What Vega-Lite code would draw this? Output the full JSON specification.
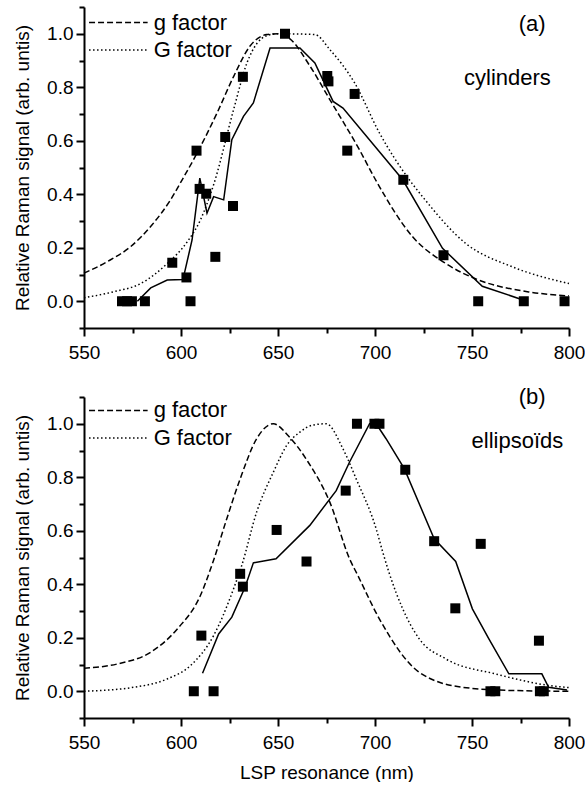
{
  "$schema": "https://vega.github.io/schema/vega-lite/v6.json",
  "padding": {"left": 13, "top": 6, "right": 0, "bottom": 0},
  "spacing": 24,
  "config": {
    "view": {"stroke": null},
    "axis": {
      "grid": false,
      "domainColor": "black",
      "domainWidth": 2,
      "tickColor": "black",
      "tickWidth": 2,
      "labelFont": "Liberation Sans",
      "labelFontSize": 19,
      "labelColor": "black",
      "titleFont": "Liberation Sans",
      "titleFontSize": 19,
      "titleFontWeight": "normal",
      "titleColor": "black"
    },
    "text": {"font": "Liberation Sans", "fontSize": 22, "color": "black"}
  },
  "datasets": {
    "a_pts": [
      {"x": 569.6, "y": 0}, {"x": 572.2, "y": 0}, {"x": 574.7, "y": 0}, {"x": 581.4, "y": 0},
      {"x": 595.5, "y": 0.144}, {"x": 602.8, "y": 0.089}, {"x": 604.9, "y": 0},
      {"x": 608.0, "y": 0.563}, {"x": 609.6, "y": 0.42}, {"x": 613.0, "y": 0.402},
      {"x": 617.7, "y": 0.166}, {"x": 622.8, "y": 0.614}, {"x": 626.8, "y": 0.356},
      {"x": 631.9, "y": 0.839}, {"x": 653.6, "y": 1.0},
      {"x": 675.4, "y": 0.842}, {"x": 676.0, "y": 0.822},
      {"x": 685.7, "y": 0.563}, {"x": 689.5, "y": 0.775}, {"x": 714.6, "y": 0.454},
      {"x": 735.3, "y": 0.172}, {"x": 753.2, "y": 0}, {"x": 776.7, "y": 0}, {"x": 797.7, "y": 0}
    ],
    "a_fit": [
      {"x": 577.5, "y": 0}, {"x": 584.4, "y": 0.05}, {"x": 592.9, "y": 0.079},
      {"x": 601.0, "y": 0.081}, {"x": 605.7, "y": 0.229}, {"x": 609.7, "y": 0.46},
      {"x": 613.4, "y": 0.329}, {"x": 616.8, "y": 0.391}, {"x": 622.0, "y": 0.379},
      {"x": 626.2, "y": 0.604}, {"x": 632.2, "y": 0.691}, {"x": 637.3, "y": 0.741},
      {"x": 645.9, "y": 0.947}, {"x": 661.3, "y": 0.947}, {"x": 669.0, "y": 0.891},
      {"x": 678.4, "y": 0.747}, {"x": 683.5, "y": 0.722}, {"x": 714.3, "y": 0.454},
      {"x": 734.8, "y": 0.198}, {"x": 755.3, "y": 0.056}, {"x": 776.7, "y": 0.004}
    ],
    "a_g": [
      {"x": 550, "y": 0.105}, {"x": 562, "y": 0.148}, {"x": 574, "y": 0.204},
      {"x": 585, "y": 0.285}, {"x": 594.6, "y": 0.379}, {"x": 600.6, "y": 0.454},
      {"x": 608.3, "y": 0.554}, {"x": 618.6, "y": 0.704}, {"x": 627.1, "y": 0.84},
      {"x": 635.6, "y": 0.954}, {"x": 644.2, "y": 0.997}, {"x": 650, "y": 1.0},
      {"x": 656, "y": 0.982}, {"x": 666.4, "y": 0.88}, {"x": 676.7, "y": 0.754},
      {"x": 692, "y": 0.566}, {"x": 700.6, "y": 0.45}, {"x": 719.4, "y": 0.241},
      {"x": 736.5, "y": 0.141}, {"x": 753.6, "y": 0.079}, {"x": 779.2, "y": 0.035},
      {"x": 800, "y": 0.02}
    ],
    "a_G": [
      {"x": 550, "y": 0.013}, {"x": 565, "y": 0.035}, {"x": 579.2, "y": 0.066},
      {"x": 592.9, "y": 0.141}, {"x": 603, "y": 0.22}, {"x": 610, "y": 0.304},
      {"x": 617, "y": 0.44}, {"x": 627.1, "y": 0.716}, {"x": 634, "y": 0.891},
      {"x": 644.2, "y": 0.993}, {"x": 650, "y": 1.0}, {"x": 669, "y": 0.997},
      {"x": 676.7, "y": 0.941}, {"x": 689.5, "y": 0.816}, {"x": 702.3, "y": 0.629},
      {"x": 717.7, "y": 0.454}, {"x": 724.5, "y": 0.391}, {"x": 746.8, "y": 0.216},
      {"x": 770.7, "y": 0.129}, {"x": 800, "y": 0.066}
    ],
    "a_leg_g": [{"x": 552.6, "x2": 582.8, "y": 1.042}],
    "a_leg_G": [{"x": 552.6, "x2": 582.8, "y": 0.939}],
    "a_txt": [
      {"x": 585.9, "y": 1.042, "label": "g factor"},
      {"x": 585.9, "y": 0.939, "label": "G factor"},
      {"x": 774.1, "y": 1.035, "label": "(a)"},
      {"x": 745.9, "y": 0.836, "label": "cylinders"}
    ],
    "b_pts": [
      {"x": 606.6, "y": 0}, {"x": 616.8, "y": 0}, {"x": 610.5, "y": 0.208},
      {"x": 630.5, "y": 0.439}, {"x": 631.9, "y": 0.391}, {"x": 649.3, "y": 0.603},
      {"x": 664.7, "y": 0.485}, {"x": 684.9, "y": 0.75}, {"x": 690.7, "y": 1.0},
      {"x": 699.7, "y": 1.0}, {"x": 702.3, "y": 1.0}, {"x": 715.6, "y": 0.828},
      {"x": 730.5, "y": 0.561}, {"x": 741.4, "y": 0.31}, {"x": 754.5, "y": 0.551},
      {"x": 759.5, "y": 0}, {"x": 762.0, "y": 0}, {"x": 784.5, "y": 0.189},
      {"x": 785.0, "y": 0}, {"x": 787.0, "y": 0}
    ],
    "b_fit": [
      {"x": 611.1, "y": 0.067}, {"x": 619.4, "y": 0.214}, {"x": 626.2, "y": 0.277},
      {"x": 633.0, "y": 0.389}, {"x": 637.3, "y": 0.48}, {"x": 649.0, "y": 0.495},
      {"x": 666.4, "y": 0.62}, {"x": 680.0, "y": 0.75}, {"x": 686.9, "y": 0.857},
      {"x": 697.2, "y": 1.0}, {"x": 700.6, "y": 1.0}, {"x": 705.7, "y": 0.944},
      {"x": 715.1, "y": 0.832}, {"x": 730.5, "y": 0.57}, {"x": 741.6, "y": 0.485},
      {"x": 750.2, "y": 0.308}, {"x": 758.7, "y": 0.196}, {"x": 769.0, "y": 0.065},
      {"x": 786.0, "y": 0.065}, {"x": 789.5, "y": 0.015}, {"x": 799.0, "y": 0.005}
    ],
    "b_g": [
      {"x": 550, "y": 0.086}, {"x": 567.2, "y": 0.102}, {"x": 584.4, "y": 0.146},
      {"x": 598.1, "y": 0.233}, {"x": 610, "y": 0.358}, {"x": 616.8, "y": 0.49},
      {"x": 623.6, "y": 0.645}, {"x": 630.5, "y": 0.794}, {"x": 639, "y": 0.944},
      {"x": 647.6, "y": 1.0}, {"x": 655.3, "y": 0.955}, {"x": 665.5, "y": 0.857},
      {"x": 676.7, "y": 0.707}, {"x": 686.9, "y": 0.495}, {"x": 691.2, "y": 0.432},
      {"x": 702.3, "y": 0.27}, {"x": 722.8, "y": 0.071}, {"x": 745, "y": 0.015},
      {"x": 770, "y": 0.003}, {"x": 800, "y": 0.0}
    ],
    "b_G": [
      {"x": 550, "y": 0.0}, {"x": 575.8, "y": 0.015}, {"x": 592.9, "y": 0.046},
      {"x": 604.9, "y": 0.096}, {"x": 616.8, "y": 0.208}, {"x": 627.1, "y": 0.383},
      {"x": 631.3, "y": 0.47}, {"x": 639, "y": 0.67}, {"x": 647.6, "y": 0.819},
      {"x": 654.5, "y": 0.919}, {"x": 661.3, "y": 0.969}, {"x": 668, "y": 0.995},
      {"x": 674.9, "y": 1.0}, {"x": 683.5, "y": 0.906}, {"x": 690.3, "y": 0.794},
      {"x": 700.6, "y": 0.607}, {"x": 704, "y": 0.52}, {"x": 707.4, "y": 0.44},
      {"x": 714.3, "y": 0.308}, {"x": 722.8, "y": 0.196}, {"x": 736.5, "y": 0.121},
      {"x": 762, "y": 0.065}, {"x": 798, "y": 0.015}, {"x": 800, "y": 0.014}
    ],
    "b_leg_g": [{"x": 552.6, "x2": 582.8, "y": 1.05}],
    "b_leg_G": [{"x": 552.6, "x2": 582.8, "y": 0.947}],
    "b_txt": [
      {"x": 585.9, "y": 1.05, "label": "g factor"},
      {"x": 585.9, "y": 0.947, "label": "G factor"},
      {"x": 774.1, "y": 1.1, "label": "(b)"},
      {"x": 749.8, "y": 0.936, "label": "ellipsoïds"}
    ]
  },
  "vconcat": [
    {
      "width": 485,
      "height": 321,
      "encoding": {
        "x": {
          "field": "x", "type": "quantitative",
          "scale": {"domain": [550, 800], "nice": false, "zero": false},
          "axis": {
            "title": null,
            "values": [550, 575, 600, 625, 650, 675, 700, 725, 750, 775, 800],
            "labelExpr": "datum.value % 50 == 0 ? datum.label : ''",
            "tickSize": {"condition": {"test": "datum.value % 50 == 0", "value": 8}, "value": 5},
            "labelPadding": 7,
            "labelFlush": false
          }
        },
        "y": {
          "field": "y", "type": "quantitative",
          "scale": {"domain": [-0.1, 1.1], "nice": false, "zero": false},
          "axis": {
            "title": "Relative Raman signal (arb. untis)",
            "values": [-0.1, 0, 0.1, 0.2, 0.3, 0.4, 0.5, 0.6, 0.7, 0.8, 0.9, 1.0, 1.1],
            "format": ".1f",
            "labelExpr": "round(datum.value*10) % 2 == 0 ? datum.label : ''",
            "tickSize": {"condition": {"test": "round(datum.value*10) % 2 == 0", "value": 8}, "value": 5},
            "labelPadding": 3,
            "titlePadding": 14,
            "labelFlush": false
          }
        }
      },
      "layer": [
        {"data": {"name": "a_g"}, "mark": {"type": "line", "color": "black", "strokeWidth": 1.5, "strokeDash": [6, 3], "interpolate": "monotone"}},
        {"data": {"name": "a_G"}, "mark": {"type": "line", "color": "black", "strokeWidth": 1.5, "strokeDash": [1.5, 2.5], "interpolate": "monotone"}},
        {"data": {"name": "a_fit"}, "mark": {"type": "line", "color": "black", "strokeWidth": 1.5}},
        {"data": {"name": "a_pts"}, "mark": {"type": "point", "shape": "square", "filled": true, "color": "black", "size": 100, "opacity": 1}},
        {"data": {"name": "a_leg_g"}, "mark": {"type": "rule", "color": "black", "strokeWidth": 1.5, "strokeDash": [6, 3]}, "encoding": {"x2": {"field": "x2"}}},
        {"data": {"name": "a_leg_G"}, "mark": {"type": "rule", "color": "black", "strokeWidth": 1.5, "strokeDash": [1.5, 2.5]}, "encoding": {"x2": {"field": "x2"}}},
        {"data": {"name": "a_txt"}, "mark": {"type": "text", "align": "left", "baseline": "middle"}, "encoding": {"text": {"field": "label"}}}
      ]
    },
    {
      "width": 485,
      "height": 321,
      "encoding": {
        "x": {
          "field": "x", "type": "quantitative",
          "scale": {"domain": [550, 800], "nice": false, "zero": false},
          "axis": {
            "title": "LSP resonance (nm)",
            "values": [550, 575, 600, 625, 650, 675, 700, 725, 750, 775, 800],
            "labelExpr": "datum.value % 50 == 0 ? datum.label : ''",
            "tickSize": {"condition": {"test": "datum.value % 50 == 0", "value": 8}, "value": 5},
            "labelPadding": 7,
            "titlePadding": 11,
            "labelFlush": false
          }
        },
        "y": {
          "field": "y", "type": "quantitative",
          "scale": {"domain": [-0.1, 1.1], "nice": false, "zero": false},
          "axis": {
            "title": "Relative Raman signal (arb. untis)",
            "values": [-0.1, 0, 0.1, 0.2, 0.3, 0.4, 0.5, 0.6, 0.7, 0.8, 0.9, 1.0, 1.1],
            "format": ".1f",
            "labelExpr": "round(datum.value*10) % 2 == 0 ? datum.label : ''",
            "tickSize": {"condition": {"test": "round(datum.value*10) % 2 == 0", "value": 8}, "value": 5},
            "labelPadding": 3,
            "titlePadding": 14,
            "labelFlush": false
          }
        }
      },
      "layer": [
        {"data": {"name": "b_g"}, "mark": {"type": "line", "color": "black", "strokeWidth": 1.5, "strokeDash": [6, 3], "interpolate": "monotone"}},
        {"data": {"name": "b_G"}, "mark": {"type": "line", "color": "black", "strokeWidth": 1.5, "strokeDash": [1.5, 2.5], "interpolate": "monotone"}},
        {"data": {"name": "b_fit"}, "mark": {"type": "line", "color": "black", "strokeWidth": 1.5}},
        {"data": {"name": "b_pts"}, "mark": {"type": "point", "shape": "square", "filled": true, "color": "black", "size": 100, "opacity": 1}},
        {"data": {"name": "b_leg_g"}, "mark": {"type": "rule", "color": "black", "strokeWidth": 1.5, "strokeDash": [6, 3]}, "encoding": {"x2": {"field": "x2"}}},
        {"data": {"name": "b_leg_G"}, "mark": {"type": "rule", "color": "black", "strokeWidth": 1.5, "strokeDash": [1.5, 2.5]}, "encoding": {"x2": {"field": "x2"}}},
        {"data": {"name": "b_txt"}, "mark": {"type": "text", "align": "left", "baseline": "middle"}, "encoding": {"text": {"field": "label"}}}
      ]
    }
  ]
}
